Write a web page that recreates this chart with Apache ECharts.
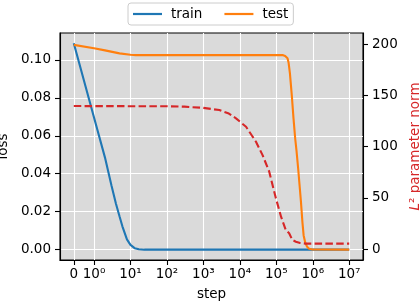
<!DOCTYPE html>
<html>
<head>
<meta charset="utf-8">
<script src="https://cdn.jsdelivr.net/npm/echarts@6/dist/echarts.min.js"></script>
<style>
html,body{margin:0;padding:0;background:#fff;}
#c{width:420px;height:304px;}
</style>
</head>
<body>
<div id="c"></div>
<script>
// ---- data ----
const trainSteps = [0, 1, 2, 3, 4, 5, 6, 8, 10, 13, 17, 24, 1e7];
const trainLoss  = [0.1087, 0.0696, 0.0485, 0.0339, 0.0242, 0.0176, 0.0123, 0.0054, 0.0025, 0.0008, 0.0002, 0, 0];

const testSteps = [0, 1, 2, 5, 10, 14, 20, 1.48e5, 1.75e5, 2.03e5, 2.18e5, 2.36e5, 2.67e5, 2.96e5, 3.29e5, 3.57e5, 3.97e5, 4.37e5, 4.71e5, 5.21e5, 5.62e5, 6.18e5, 7.0e5, 7.95e5, 9.8e5, 1e7];
const testLoss  = [0.1079, 0.1061, 0.1050, 0.1034, 0.1027, 0.1025, 0.1025, 0.1025, 0.1020, 0.1008, 0.0983, 0.0930, 0.0809, 0.0693, 0.0587, 0.0524, 0.0429, 0.0334, 0.0260, 0.0144, 0.0075, 0.0039, 0.0015, 0.0005, 0.0001, 0];

const normSteps  = [0, 100, 300, 960, 2.74e3, 5e3, 7.85e3, 1.48e4, 2.77e4, 4.2e4, 6.4e4, 9.75e4, 1.35e5, 1.82e5, 2.25e5, 2.75e5, 3.44e5, 4.5e5, 6.46e5, 1e7];
const normValues = [139.6, 139.4, 139.0, 137.9, 135.7, 132.3, 127.6, 119.4, 104.8, 91.8, 75.6, 49.7, 31.8, 18.8, 15.6, 9.1, 7.4, 6.2, 5.5, 5.5];

const xTickSteps  = [0, 1, 10, 100, 1e3, 1e4, 1e5, 1e6, 1e7];
const xTickLabels = ['0', '10⁰', '10¹', '10²', '10³', '10⁴', '10⁵', '10⁶', '10⁷'];
const lossTicks = [0, 0.02, 0.04, 0.06, 0.08, 0.10];
const normTicks = [0, 50, 100, 150, 200];
const legendNames = ['train', 'test'];

// symlog-like scale: linear on [0,1], log10 above
const LIN = 0.555;
function pos(s) { return s <= 1 ? s * LIN : LIN + Math.log10(s); }
function pairs(xs, ys) { return xs.map((x, i) => [pos(x), ys[i]]); }

const FONT = 'DejaVu Sans';
const FS = 13.5;
const xTickPos = xTickSteps.map(pos);

const chart = echarts.init(document.getElementById('c'), null, {renderer: 'canvas'});
chart.setOption({
  animation: false,
  textStyle: {fontFamily: FONT},
  legend: {
    data: legendNames,
    left: 128, top: 3,
    padding: [4, 5, 4, 5],
    itemGap: 22,
    itemWidth: 29, itemHeight: 2.2,
    icon: 'rect',
    borderColor: '#cccccc', borderWidth: 1, borderRadius: 3,
    backgroundColor: 'rgba(255,255,255,0.8)',
    textStyle: {fontFamily: FONT, fontSize: FS, color: '#000', padding: [0, 0, 0, 4]}
  },
  grid: {
    left: 60, right: 57, top: 33, bottom: 44,
    outerBoundsMode: 'none', containLabel: false,
    show: true, backgroundColor: '#dadada', borderColor: '#000', borderWidth: 1.1
  },
  xAxis: {
    type: 'value',
    min: -0.378, max: 7.933,
    name: 'step', nameLocation: 'middle', nameGap: 27,
    nameTextStyle: {fontFamily: FONT, fontSize: FS, color: '#000'},
    axisLine: {show: true, onZero: false, lineStyle: {color: '#000', width: 1.1}},
    axisTick: {show: true, customValues: xTickPos, length: 5, lineStyle: {color: '#000', width: 1.1}},
    axisLabel: {
      customValues: xTickPos, margin: 7, color: '#000', fontFamily: FONT, fontSize: FS,
      formatter: function (v) {
        for (let i = 0; i < xTickPos.length; i++) if (Math.abs(xTickPos[i] - v) < 1e-6) return xTickLabels[i];
        return '';
      }
    },
    splitLine: {show: true, lineStyle: {color: '#ffffff', width: 1.1}}
  },
  yAxis: [{
    type: 'value',
    min: -0.00544, max: 0.11414,
    name: 'loss', nameLocation: 'middle', nameGap: 50, nameRotate: 90,
    nameTextStyle: {fontFamily: FONT, fontSize: FS, color: '#000'},
    axisLine: {show: true, onZero: false, lineStyle: {color: '#000', width: 1.1}},
    axisTick: {show: true, customValues: lossTicks, length: 5, lineStyle: {color: '#000', width: 1.1}},
    axisLabel: {customValues: lossTicks, margin: 9, color: '#000', fontFamily: FONT, fontSize: FS,
      formatter: v => v.toFixed(2)},
    splitLine: {show: true, lineStyle: {color: '#ffffff', width: 1.1}}
  }, {
    type: 'value',
    position: 'right',
    min: -10.43, max: 210.8,
    name: '{i|L}{n|² parameter norm}', nameLocation: 'middle', nameGap: 40, nameRotate: 90,
    nameTextStyle: {fontFamily: FONT, fontSize: FS, color: '#d62728',
      rich: {
        i: {fontFamily: FONT, fontSize: FS, color: '#d62728', fontStyle: 'italic'},
        n: {fontFamily: FONT, fontSize: FS, color: '#d62728'}
      }},
    axisLine: {show: true, onZero: false, lineStyle: {color: '#000', width: 1.1}},
    axisTick: {show: true, customValues: normTicks, length: 5, lineStyle: {color: '#000', width: 1.1}},
    axisLabel: {customValues: normTicks, margin: 9, color: '#000', fontFamily: FONT, fontSize: FS},
    splitLine: {show: false}
  }],
  series: [{
    name: 'train', type: 'line', xAxisIndex: 0, yAxisIndex: 0,
    data: pairs(trainSteps, trainLoss),
    showSymbol: false, symbol: 'none',
    lineStyle: {color: '#1f77b4', width: 2.1}, itemStyle: {color: '#1f77b4'}
  }, {
    name: 'test', type: 'line', xAxisIndex: 0, yAxisIndex: 0,
    data: pairs(testSteps, testLoss),
    showSymbol: false, symbol: 'none',
    lineStyle: {color: '#ff7f0e', width: 2.1}, itemStyle: {color: '#ff7f0e'}
  }, {
    name: 'norm', type: 'line', xAxisIndex: 0, yAxisIndex: 1,
    data: pairs(normSteps, normValues),
    showSymbol: false, symbol: 'none',
    lineStyle: {color: '#d62728', width: 2.1, type: [7.5, 3.3]}, itemStyle: {color: '#d62728'}
  }]
});
</script>
</body>
</html>
